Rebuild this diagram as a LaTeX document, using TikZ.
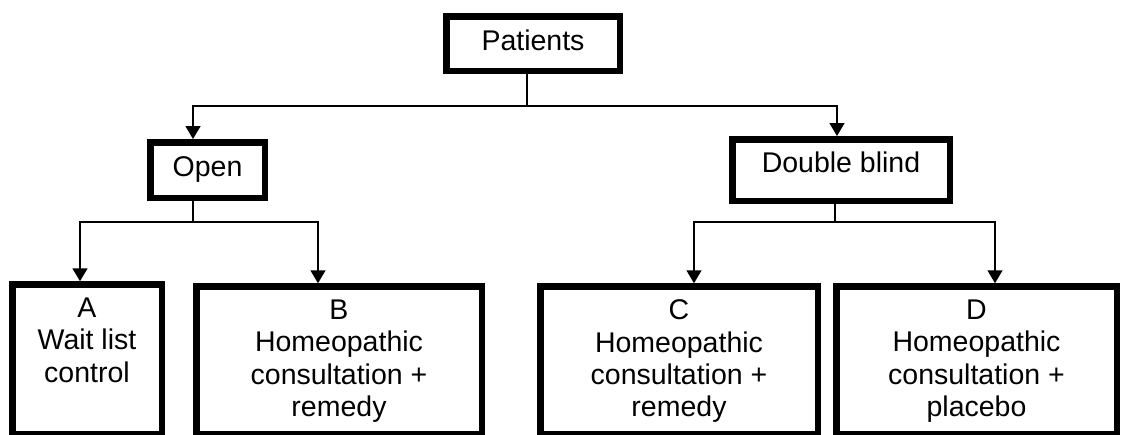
\documentclass[tikz,border=0pt]{standalone}
\usepackage{fontspec}
\setmainfont{Liberation Sans}
\usetikzlibrary{arrows.meta}

\begin{document}
\begin{tikzpicture}[x=1pt, y=-1pt,
  every node/.style={font=\fontsize{28.5}{32.3}\selectfont},
  box/.style={draw=black, line width=6.5pt, inner sep=0pt, fill=white},
  headbox/.style={box, text height=20pt},
  label/.style={inner sep=0pt, align=center, anchor=north},
  link/.style={draw=black, line width=1.5pt},
  arrow/.style={link, -{Triangle[length=13pt,width=15pt]}}
]
  % page frame
  \fill[white] (0,0) rectangle (1121,434);
  \useasboundingbox (0,0) rectangle (1121,434);

  % top levels
  \node[headbox, text depth=7pt, minimum width=173.5pt, minimum height=54.5pt] (Patients) at (533,43.5) {Patients};
  \node[headbox, text depth=8pt, minimum width=114.5pt, minimum height=55.5pt] (Open) at (207.5,170) {Open};
  \node[headbox, text depth=14.5pt, minimum width=217.5pt, minimum height=61.5pt] (Double) at (841,170) {Double blind};

  % treatment groups
  \node[box, minimum width=149.5pt, minimum height=150pt] (A) at (87,359.5) {};
  \node[box, minimum width=285.5pt, minimum height=148pt] (B) at (339,360.5) {};
  \node[box, minimum width=277.5pt, minimum height=148pt] (C) at (679,360.5) {};
  \node[box, minimum width=280.5pt, minimum height=148pt] (D) at (976.5,360.5) {};

  \node[label] (At) at ([yshift=-16.5pt]A.north) {A\\Wait list\\control};
  \node[label] (Bt) at ([yshift=-16.5pt]B.north) {B\\Homeopathic\\consultation +\\remedy};
  \node[label] (Ct) at ([yshift=-16.5pt]C.north) {C\\Homeopathic\\consultation +\\remedy};
  \node[label] (Dt) at ([yshift=-16.5pt]D.north) {D\\Homeopathic\\consultation +\\placebo};

  % branch junctions
  \coordinate (pj) at (527,106);
  \coordinate (oj) at (193,222);
  \coordinate (dj) at (835,222);

  % Patients -> Open / Double blind
  \draw[link] (Patients.south -| pj) -- (pj);
  \draw[arrow] (pj) -| ([xshift=-14.5pt]Open.north);
  \draw[arrow] (pj) -| ([xshift=-4pt]Double.north);

  % Open -> A / B
  \draw[link] (Open.south -| oj) -- (oj);
  \draw[arrow] (oj) -| ([xshift=-7pt]A.north);
  \draw[arrow] (oj) -| ([xshift=-21pt]B.north);

  % Double blind -> C / D
  \draw[link] (Double.south -| dj) -- (dj);
  \draw[arrow] (dj) -| ([xshift=15pt]C.north);
  \draw[arrow] (dj) -| ([xshift=18.5pt]D.north);
\end{tikzpicture}
\end{document}
